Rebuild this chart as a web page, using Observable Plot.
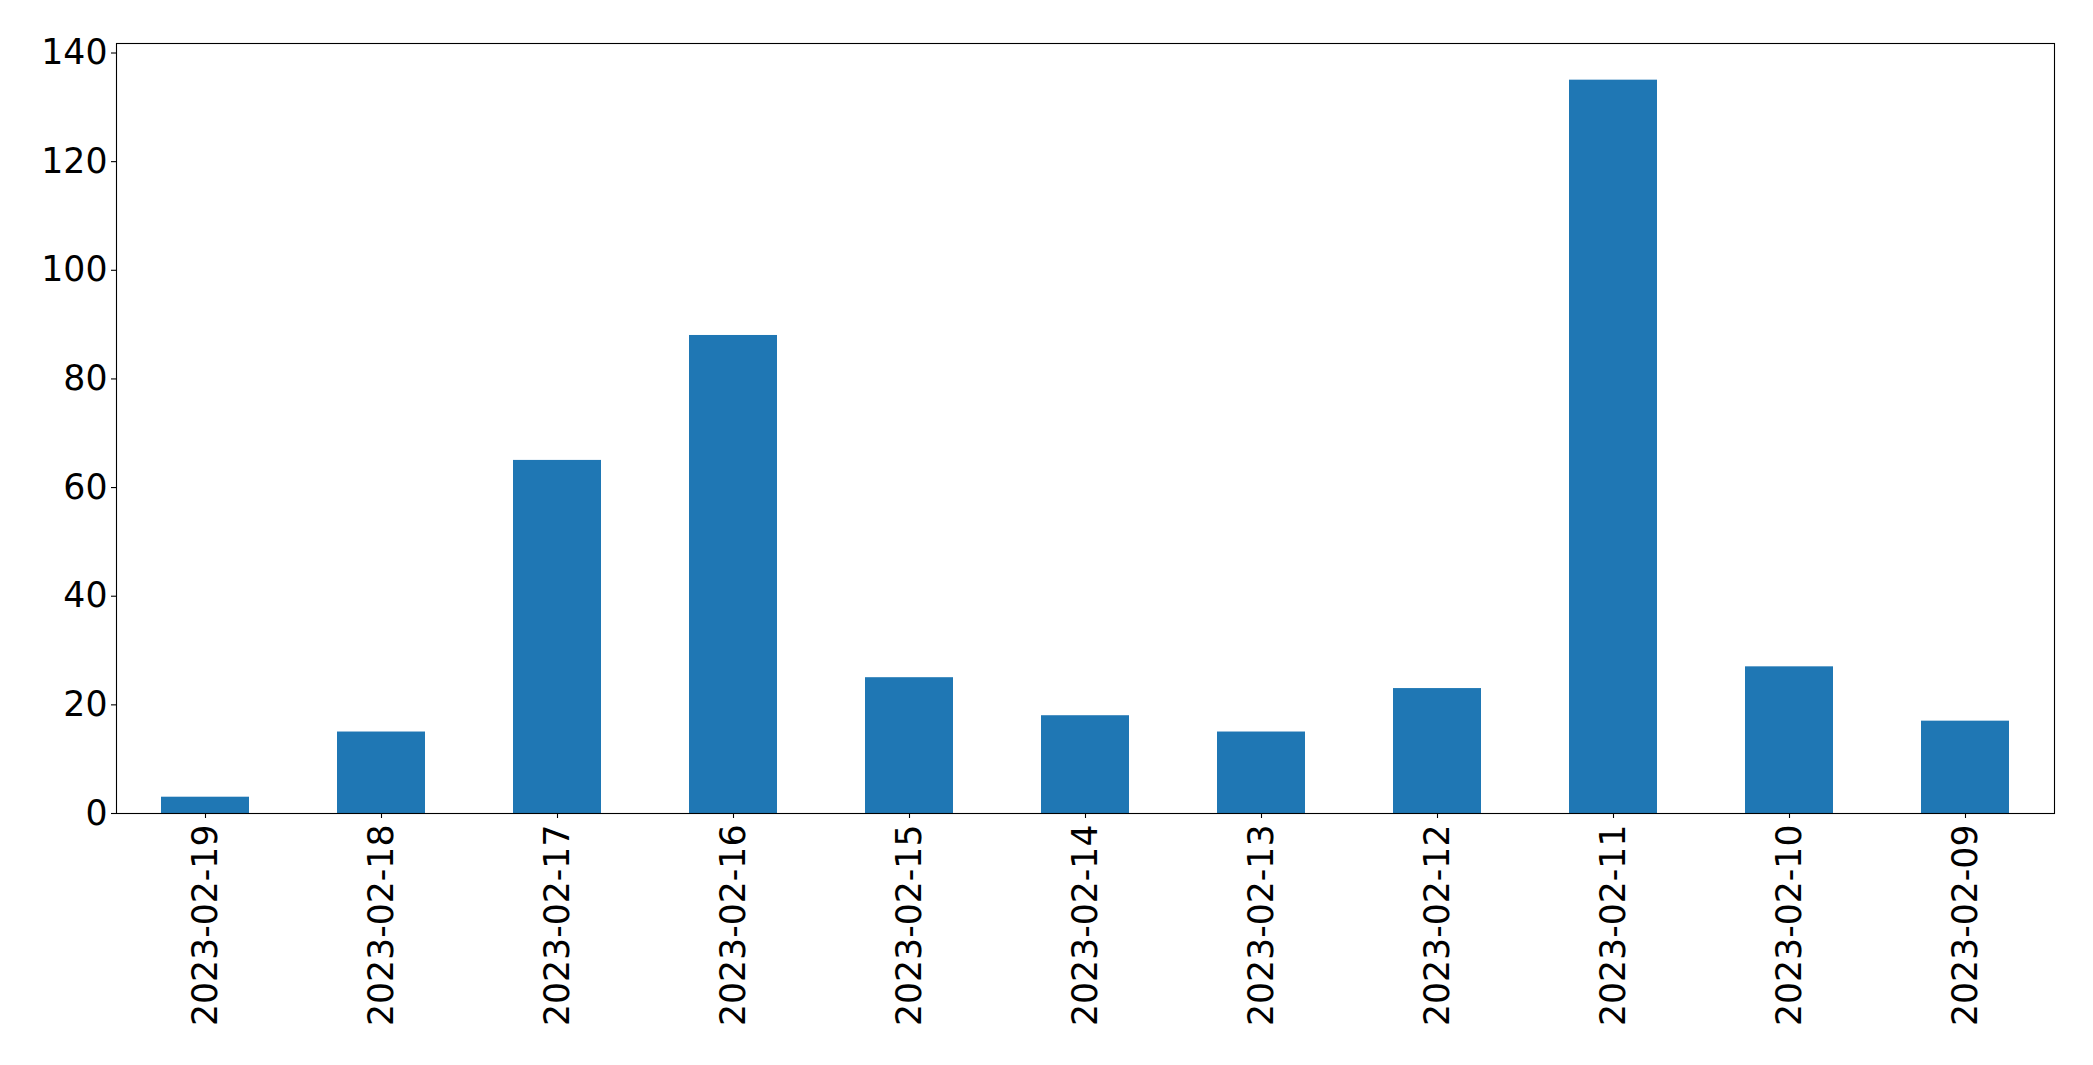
<!DOCTYPE html>
<html>
<head>
<meta charset="utf-8">
<script src="https://cdn.jsdelivr.net/npm/d3@7"></script>
<script src="https://cdn.jsdelivr.net/npm/@observablehq/plot@0.6"></script>
<style>
  html, body { margin: 0; padding: 0; background: white; }
  #chart { width: 2093px; height: 1065px; }
</style>
</head>
<body>
<div id="chart"></div>
<script>
const dates = ["2023-02-19","2023-02-18","2023-02-17","2023-02-16","2023-02-15","2023-02-14","2023-02-13","2023-02-12","2023-02-11","2023-02-10","2023-02-09"];
const counts = [3, 15, 65, 88, 25, 18, 15, 23, 135, 27, 17];
const yTicks = [0, 20, 40, 60, 80, 100, 120, 140];

const data = dates.map((d, i) => ({date: d, count: counts[i]}));
const yMax = d3.max(counts) * 1.05;

const chart = Plot.plot({
  width: 2093,
  height: 1065,
  marginLeft: 116,
  marginRight: 39,
  marginTop: 43,
  marginBottom: 252,
  style: {
    fontFamily: "DejaVu Sans",
    fontSize: "34.7px",
    color: "black",
    background: "white",
    overflow: "visible"
  },
  x: { type: "band", domain: dates, paddingInner: 0.5, paddingOuter: 0.25, align: 0.5, label: null },
  y: { domain: [0, yMax], label: null },
  marks: [
    Plot.barY(data, { x: "date", y: "count", fill: "#1f77b4" }),
    Plot.axisY({ ticks: yTicks, tickSize: 5, tickPadding: 4, label: null, stroke: "black", strokeWidth: 1.1, fontSize: "34.7px" }),
    Plot.axisX({ tickRotate: -90, tickSize: 5, tickPadding: 6, label: null, stroke: "black", strokeWidth: 1.1, fontSize: "34.7px" }),
    Plot.frame({ stroke: "black", strokeWidth: 1.1 })
  ]
});
document.getElementById("chart").appendChild(chart);
</script>
</body>
</html>
